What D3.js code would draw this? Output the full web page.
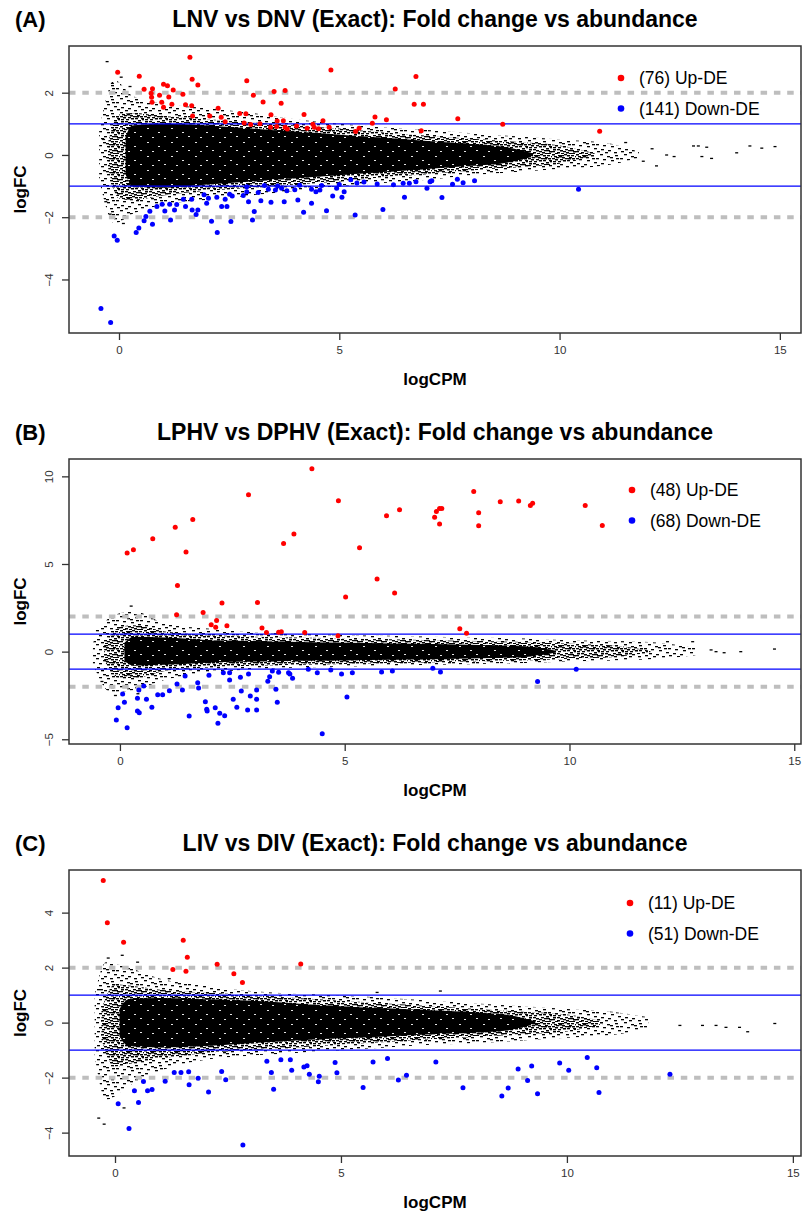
<!DOCTYPE html>
<html>
<head>
<meta charset="utf-8">
<script src="https://cdn.jsdelivr.net/npm/d3@7"></script>
<style>
body { margin: 0; background: #fff; }
svg { display: block; font-family: "Liberation Sans", Arial, sans-serif; }
</style>
</head>
<body>
<div id="chart"></div>
<script>
// ---- panel A : LNV vs DNV ----
const upA = [[-0.03,2.66],[0.46,2.53],[0.57,2.11],[0.76,2.13],[0.73,1.98],[0.74,1.85],[0.75,1.69],[0.92,1.92],
  [1.01,2.27],[1.10,2.22],[0.97,1.69],[1.01,1.53],[1.13,1.86],[1.20,1.63],[1.23,2.09],[1.45,1.95],[1.51,1.61],
  [1.61,3.14],[1.66,2.43],[1.65,1.58],[1.67,1.25],[1.79,2.25],[2.06,1.25],[2.25,1.50],[2.32,1.21],[2.41,1.07],
  [2.74,1.33],[2.88,1.32],[2.90,2.38],[2.84,1.03],[2.99,0.98],[3.05,1.92],[3.27,1.70],[3.20,1.00],[3.45,1.29],
  [3.52,2.04],[3.77,2.07],[3.68,1.66],[3.59,1.09],[3.73,1.10],[3.44,0.89],[3.58,0.91],[3.77,0.89],[3.82,0.83],
  [4.03,0.93],[4.20,1.30],[4.27,0.86],[4.40,0.99],[4.43,0.89],[4.53,0.84],[4.63,1.10],[4.77,0.89],[4.81,2.73],
  [5.37,0.75],[5.45,0.86],[5.75,1.02],[5.81,1.22],[6.07,1.13],[6.27,2.12],[6.74,2.52],[6.70,1.63],[6.91,1.63],
  [7.69,1.16],[6.86,0.78],[8.71,0.99],[10.91,0.76]];
const downA = [[-0.41,-4.93],[-0.19,-5.38],[-0.11,-2.60],[-0.04,-2.74],[0.39,-2.49],[0.45,-2.35],[0.57,-2.11],
  [0.61,-1.98],[0.76,-2.23],[0.70,-1.81],[0.86,-1.66],[0.98,-1.58],[1.04,-1.80],[1.15,-1.58],[1.17,-2.09],
  [1.26,-1.77],[1.31,-1.59],[1.46,-1.42],[1.51,-1.66],[1.65,-1.42],[1.66,-1.77],[1.75,-1.91],[1.79,-1.77],
  [1.93,-1.28],[1.99,-1.55],[2.03,-1.39],[2.10,-2.13],[2.23,-2.49],[2.22,-1.36],[2.33,-1.66],[2.41,-1.42],
  [2.45,-1.66],[2.51,-1.26],[2.54,-2.14],[2.57,-1.32],[2.82,-1.30],[2.90,-1.18],[2.94,-1.50],[3.03,-2.09],
  [3.07,-1.82],[3.16,-1.21],[3.22,-1.47],[3.39,-1.10],[3.45,-1.52],[3.55,-1.13],[3.69,-1.07],[3.75,-1.50],
  [3.81,-1.15],[3.99,-1.12],[4.06,-1.45],[4.19,-1.84],[4.37,-1.10],[4.37,-1.55],[4.47,-1.18],[4.56,-1.13],
  [4.71,-1.79],[4.85,-1.32],[4.94,-1.07],[5.06,-1.36],[5.11,-1.18],[5.26,-0.80],[5.36,-1.93],[5.56,-0.87],
  [5.86,-0.93],[5.99,-1.75],[6.23,-0.96],[2.90,-1.02],[3.30,-0.98],[3.60,-1.00],[4.10,-0.97],[4.60,-0.98],
  [5.00,-0.95],[5.40,-0.90],[6.45,-0.91],[6.59,-0.91],[6.74,-0.86],[6.48,-1.36],[6.99,-1.07],[7.06,-0.86],
  [7.10,-0.83],[7.33,-1.37],[7.57,-0.94],[7.68,-0.78],[7.81,-0.89],[8.07,-0.83],[10.43,-1.10]];
// point cloud envelopes (logCPM, upper logFC, lower logFC)
const coreXA = [0.15, 0.3, 1, 2, 3, 4, 5, 6, 7, 8, 8.8, 9.4];
const coreUpA = [0.6, 0.95, 1.0, 0.95, 0.85, 0.75, 0.65, 0.55, 0.45, 0.35, 0.25, 0.05];
const coreLoA = [-0.6, -1.0, -1.05, -0.95, -0.85, -0.75, -0.65, -0.55, -0.45, -0.35, -0.25, -0.05];
const midXA = [-0.25, 0.0, 0.3, 1, 2, 3, 4, 5, 6, 7, 8, 9, 10, 10.8];
const midUpA = [0.4, 1.3, 1.35, 1.25, 1.15, 1.05, 0.95, 0.85, 0.72, 0.62, 0.52, 0.42, 0.3, 0.05];
const midLoA = [-0.4, -1.4, -1.45, -1.3, -1.15, -1.05, -0.95, -0.85, -0.72, -0.62, -0.5, -0.4, -0.28, -0.05];
const haloXA = [-0.45, -0.1, 0.3, 1, 2, 3, 4, 5, 6, 7, 8, 9, 10, 11, 11.8];
const haloUpA = [0.8, 2.4, 1.9, 1.65, 1.5, 1.35, 1.15, 1.0, 0.9, 0.8, 0.7, 0.6, 0.5, 0.4, 0.1];
const haloLoA = [-0.8, -2.2, -1.9, -1.6, -1.45, -1.3, -1.15, -1.0, -0.9, -0.8, -0.65, -0.55, -0.45, -0.35, -0.1];
const tailA = [[13.04,0.29],[13.15,0.29],[13.34,0.25],[14.32,0.29],[14.59,0.22],[14.89,0.27],[14.02,0.07],
  [13.23,-0.05],[13.45,-0.11],[12.6,-0.05],[12.43,0.0],[-0.27,3.0],[-0.35,0.5],[12.1,0.2],[11.9,-0.2],
  [-0.15,2.3],[0.05,2.5],[0.25,2.2],[-0.3,-1.5],[-0.2,-1.9],[0.1,-2.2],[11.5,0.4],[12.2,-0.35]];

// ---- panel B : LPHV vs DPHV ----
const upB = [[0.16,5.62],[0.30,5.81],[0.73,6.44],[1.23,7.09],[1.62,7.54],[1.47,5.68],[1.28,3.77],[2.86,8.95],
  [2.27,2.78],[3.06,2.80],[3.64,6.17],[3.87,6.71],[4.27,10.44],[4.86,8.61],[5.33,5.93],[5.72,4.15],[6.11,3.35],
  [5.02,3.11],[5.93,7.75],[6.22,8.10],[7.87,9.14],[8.46,8.55],[8.87,8.59],[9.13,8.33],[9.18,8.46],[10.35,8.33],
  [10.73,7.20],[7.11,8.17],[7.16,8.17],[7.04,8.00],[7.0,7.66],[7.11,7.28],[7.98,7.93],[7.98,7.18],
  [1.26,2.10],[1.85,2.23],[2.03,1.53],[2.15,1.77],[2.13,1.39],[2.38,1.47],[3.16,1.35],[3.26,1.09],[3.53,1.11],
  [3.59,1.14],[4.11,1.09],[4.85,0.90],[7.56,1.30],[7.71,1.05]];
const downB = [[-0.08,-3.90],[-0.04,-3.20],[0.06,-2.42],[0.10,-2.89],[0.16,-4.34],[0.39,-3.39],[0.43,-3.48],
  [0.39,-2.66],[0.42,-2.19],[0.53,-1.96],[0.59,-2.72],[0.71,-3.18],[0.84,-2.46],[0.95,-2.46],[1.10,-2.23],
  [1.27,-1.85],[1.39,-2.19],[1.45,-1.39],[1.54,-3.67],[1.73,-1.77],[1.75,-2.07],[1.90,-2.86],[1.93,-3.29],
  [1.94,-3.39],[1.98,-1.35],[2.12,-3.20],[2.18,-4.09],[2.22,-3.52],[2.30,-1.20],[2.44,-1.20],[2.33,-3.66],
  [2.44,-1.62],[2.52,-2.72],[2.60,-3.18],[2.68,-1.46],[2.70,-2.25],[2.84,-3.33],[2.86,-1.27],[2.90,-2.53],
  [3.04,-2.72],[3.04,-3.33],[3.04,-2.19],[3.29,-1.69],[3.33,-1.43],[3.39,-1.10],[3.47,-2.15],[3.50,-2.89],
  [3.53,-1.18],[3.75,-1.20],[3.78,-1.27],[3.84,-1.52],[4.19,-1.01],[4.39,-1.20],[4.50,-4.69],[4.69,-1.05],
  [4.93,-1.27],[5.05,-2.59],[5.17,-1.20],[5.82,-1.16],[6.06,-1.10],[6.96,-0.95],[7.13,-1.16],[9.29,-1.71],
  [10.15,-1.01]];
const coreXB = [0.1, 0.3, 1, 2, 3, 4, 5, 6, 7, 8, 9, 9.7];
const coreUpB = [0.5, 0.85, 0.8, 0.65, 0.6, 0.55, 0.5, 0.47, 0.43, 0.38, 0.3, 0.05];
const coreLoB = [-0.5, -0.8, -0.75, -0.62, -0.57, -0.52, -0.5, -0.47, -0.43, -0.38, -0.3, -0.05];
const midXB = [-0.35, 0.0, 0.3, 1, 2, 3, 4, 5, 6, 7, 8, 9, 10, 11, 11.8];
const midUpB = [0.4, 1.4, 1.5, 1.15, 0.95, 0.85, 0.8, 0.75, 0.7, 0.65, 0.6, 0.55, 0.45, 0.35, 0.05];
const midLoB = [-0.5, -1.5, -1.5, -1.1, -0.9, -0.8, -0.75, -0.7, -0.65, -0.6, -0.55, -0.5, -0.4, -0.3, -0.05];
const haloXB = [-0.6, -0.2, 0.3, 1, 2, 3, 4, 5, 6, 7, 8, 9, 10, 11, 12, 12.8];
const haloUpB = [0.5, 2.0, 2.3, 1.6, 1.3, 1.1, 1.0, 0.95, 0.9, 0.85, 0.8, 0.75, 0.65, 0.6, 0.5, 0.2];
const haloLoB = [-0.7, -2.3, -2.2, -1.6, -1.2, -1.0, -0.9, -0.85, -0.8, -0.75, -0.7, -0.65, -0.55, -0.5, -0.4, -0.2];
const tailB = [[13.15,0.1],[13.26,0.0],[13.44,-0.06],[13.81,0.0],[14.56,0.15],[12.74,0.57],[12.18,0.57],
  [-0.5,1.2],[-0.4,-1.7],[0.25,2.6],[-0.1,-2.5],[0.4,-2.4]];

// ---- panel C : LIV vs DIV ----
const upC = [[-0.26,5.17],[-0.17,3.63],[0.19,2.92],[1.51,3.00],[1.60,2.38],[1.57,1.87],[1.28,1.93],[2.26,2.12],
  [2.63,1.78],[2.82,1.46],[4.11,2.13]];
const downC = [[0.07,-2.95],[0.31,-3.85],[0.43,-2.48],[0.52,-2.90],[0.63,-2.14],[0.72,-2.48],[0.82,-2.43],
  [1.11,-2.13],[1.31,-1.81],[1.46,-1.81],[1.63,-1.79],[1.64,-2.26],[1.84,-2.02],[2.07,-2.52],[2.36,-1.78],
  [2.45,-2.08],[2.83,-4.45],[3.36,-1.40],[3.46,-1.81],[3.51,-2.42],[3.67,-1.35],[3.88,-1.35],[3.91,-1.73],
  [4.18,-1.61],[4.25,-1.57],[4.30,-1.88],[4.50,-2.15],[4.52,-1.95],[4.87,-1.45],[4.91,-1.82],[5.49,-2.36],
  [5.71,-1.43],[6.03,-1.30],[6.27,-2.09],[6.45,-1.91],[7.10,-1.43],[7.70,-2.37],[8.56,-2.67],[8.70,-2.38],
  [8.92,-1.69],[9.13,-2.10],[9.22,-1.58],[9.35,-2.59],[9.84,-1.47],[10.04,-1.73],[10.45,-1.27],[10.66,-1.64],
  [10.71,-2.54],[12.28,-1.88]];
const coreXC = [0.1, 0.3, 1, 2, 3, 4, 5, 6, 7, 8, 8.7, 9.3];
const coreUpC = [0.5, 0.85, 0.9, 0.85, 0.8, 0.7, 0.6, 0.52, 0.45, 0.37, 0.28, 0.05];
const coreLoC = [-0.5, -0.85, -0.9, -0.85, -0.75, -0.65, -0.57, -0.5, -0.42, -0.37, -0.28, -0.05];
const midXC = [-0.3, 0.0, 0.3, 1, 2, 3, 4, 5, 6, 7, 8, 9, 10, 10.8];
const midUpC = [0.5, 1.4, 1.35, 1.2, 1.1, 1.0, 0.9, 0.8, 0.7, 0.6, 0.5, 0.4, 0.3, 0.05];
const midLoC = [-0.6, -1.6, -1.5, -1.3, -1.1, -1.0, -0.9, -0.8, -0.7, -0.6, -0.52, -0.42, -0.32, -0.05];
const haloXC = [-0.45, -0.2, 0.3, 1, 2, 3, 4, 5, 6, 7, 8, 9, 10, 11, 11.8];
const haloUpC = [1.0, 2.2, 2.0, 1.6, 1.35, 1.15, 1.05, 1.0, 0.9, 0.8, 0.7, 0.6, 0.5, 0.4, 0.2];
const haloLoC = [-1.2, -2.8, -2.3, -1.75, -1.35, -1.2, -1.1, -1.0, -0.9, -0.8, -0.75, -0.65, -0.55, -0.45, -0.2];
const tailC = [[-0.36,-3.47],[-0.24,-3.69],[12.5,-0.1],[13.0,-0.1],[13.3,-0.1],[13.52,-0.17],[13.82,-0.17],
  [14.0,-0.33],[14.6,-0.03],[0.16,2.45],[-0.15,2.35],[0.5,2.2],[1.2,1.6],[-0.3,1.2],[0.2,-3.1],[7.2,1.15],
  [5.8,1.1]];

const panels = [
  {tag: "(A)", title: "LNV vs DNV (Exact): Fold change vs abundance", top: 46, bottom: 333,
   xDomain: [-1.135, 15.48], yDomain: [-5.72, 3.5], xTicks: [0, 5, 10, 15], yTicks: [-4, -2, 0, 2],
   up: upA, down: downA, tail: tailA,
   layers: [[haloXA, haloUpA, haloLoA], [midXA, midUpA, midLoA], [coreXA, coreUpA, coreLoA]],
   nUp: 76, nDown: 141, legX: 621, legY: 78},
  {tag: "(B)", title: "LPHV vs DPHV (Exact): Fold change vs abundance", top: 459, bottom: 744,
   xDomain: [-1.133, 15.15], yDomain: [-5.27, 10.99], xTicks: [0, 5, 10, 15], yTicks: [-5, 0, 5, 10],
   up: upB, down: downB, tail: tailB,
   layers: [[haloXB, haloUpB, haloLoB], [midXB, midUpB, midLoB], [coreXB, coreUpB, coreLoB]],
   nUp: 48, nDown: 68, legX: 632, legY: 490},
  {tag: "(C)", title: "LIV vs DIV (Exact): Fold change vs abundance", top: 870, bottom: 1156,
   xDomain: [-1.018, 15.18], yDomain: [-4.85, 5.55], xTicks: [0, 5, 10, 15], yTicks: [-4, -2, 0, 2, 4],
   up: upC, down: downC, tail: tailC,
   layers: [[haloXC, haloUpC, haloLoC], [midXC, midUpC, midLoC], [coreXC, coreUpC, coreLoC]],
   nUp: 11, nDown: 51, legX: 630, legY: 903}
];

const svg = d3.select("#chart").append("svg")
    .attr("width", 803)
    .attr("height", 1214);

// textures that mimic the overplotted dash markers (sparse edge, dense band, solid core)
const defs = svg.append("defs");
const sparseDashes = [[0,0],[7,2],[15,1],[20,4],[3,5],[11,6],[18,8],[1,9],[8,10],[14,12],[21,11],[5,12],[16,4],[10,3]];
const extraDashes = [[2,2],[12,0],[19,1],[6,7],[13,9],[22,7],[0,11],[9,13],[17,13],[4,3],[15,6],[19,10],[8,5],[1,7],
  [11,11],[23,2],[6,1],[17,3],[3,13],[20,13],[13,4],[21,6],[5,9],[16,10],[9,1],[0,4]];
const speckles = [[3,2],[14,6],[8,11],[20,10]];

function makePattern(id, dashes, bg, fg, w) {
    const pat = defs.append("pattern")
        .attr("id", id)
        .attr("patternUnits", "userSpaceOnUse")
        .attr("width", 24)
        .attr("height", 14);
    if (bg) pat.append("rect").attr("width", 24).attr("height", 14).attr("fill", bg);
    dashes.forEach(d => {
        pat.append("rect")
            .attr("x", d[0]).attr("y", d[1])
            .attr("width", w).attr("height", bg ? 0.9 : 1.3)
            .attr("fill", fg);
    });
}
makePattern("sparse", sparseDashes, null, "#000", 3);
makePattern("dense", sparseDashes.concat(extraDashes), null, "#000", 3);
makePattern("solid", speckles, "#000", "#fff", 2);
const layerFills = ["url(#sparse)", "url(#dense)", "url(#solid)"];

panels.forEach(drawPanel);

function drawPanel(p) {
    const left = 69, right = 801;
    const x = d3.scaleLinear().domain(p.xDomain).range([left, right]),
          y = d3.scaleLinear().domain(p.yDomain).range([p.bottom, p.top]);
    const g = svg.append("g");

    const area = d3.area()
        .x(d => x(d[0]))
        .y0(d => y(d[2]))
        .y1(d => y(d[1]))
        .curve(d3.curveMonotoneX);

    p.layers.forEach((layer, i) => {
        g.append("path")
            .datum(d3.zip(...layer))
            .attr("fill", layerFills[i])
            .attr("d", area);
    });

    g.selectAll(".tail")
        .data(p.tail)
        .enter().append("rect")
        .attr("x", d => x(d[0]) - 1.5)
        .attr("y", d => y(d[1]) - 0.6)
        .attr("width", 3)
        .attr("height", 1.3)
        .attr("fill", "#000");

    // threshold lines
    [2, -2].forEach(v => {
        g.append("line")
            .attr("x1", left).attr("x2", right)
            .attr("y1", y(v)).attr("y2", y(v))
            .attr("stroke", "#bebebe")
            .attr("stroke-width", 4)
            .attr("stroke-dasharray", "6.5,6.8");
    });
    [1, -1].forEach(v => {
        g.append("line")
            .attr("x1", left).attr("x2", right)
            .attr("y1", y(v)).attr("y2", y(v))
            .attr("stroke", "#0000ff")
            .attr("stroke-width", 1.2);
    });

    g.selectAll(".up")
        .data(p.up)
        .enter().append("circle")
        .attr("cx", d => x(d[0]))
        .attr("cy", d => y(d[1]))
        .attr("r", 2.5)
        .attr("fill", "#ff0000");

    g.selectAll(".down")
        .data(p.down)
        .enter().append("circle")
        .attr("cx", d => x(d[0]))
        .attr("cy", d => y(d[1]))
        .attr("r", 2.5)
        .attr("fill", "#0000ff");

    // box
    g.append("rect")
        .attr("x", left).attr("y", p.top)
        .attr("width", right - left).attr("height", p.bottom - p.top)
        .attr("fill", "none")
        .attr("stroke", "#333")
        .attr("stroke-width", 1.5);

    // axes
    const xAxis = g.append("g")
        .attr("transform", `translate(0,${p.bottom})`)
        .call(d3.axisBottom(x).tickValues(p.xTicks).tickSize(7).tickPadding(6));
    const yAxis = g.append("g")
        .attr("transform", `translate(${left},0)`)
        .call(d3.axisLeft(y).tickValues(p.yTicks).tickSize(7));
    [xAxis, yAxis].forEach(a => {
        a.select(".domain").remove();
        a.selectAll("line").attr("stroke", "#333").attr("stroke-width", 1.3);
        a.selectAll("text").attr("fill", "#333").style("font-size", "11.5px").style("font-family", "Liberation Sans, Arial, sans-serif");
    });
    yAxis.selectAll("text")
        .attr("transform", "rotate(-90)")
        .attr("x", 0)
        .attr("y", -16)
        .attr("dy", 0)
        .attr("text-anchor", "middle");

    // axis titles
    g.append("text")
        .attr("x", (left + right) / 2)
        .attr("y", p.bottom + 52)
        .attr("text-anchor", "middle")
        .style("font-size", "17px")
        .style("font-weight", "bold")
        .text("logCPM");
    g.append("text")
        .attr("transform", `translate(26,${(p.top + p.bottom) / 2}) rotate(-90)`)
        .attr("text-anchor", "middle")
        .style("font-size", "17px")
        .style("font-weight", "bold")
        .text("logFC");

    // title and panel tag
    g.append("text")
        .attr("x", (left + right) / 2)
        .attr("y", p.top - 19)
        .attr("text-anchor", "middle")
        .style("font-size", "23px")
        .style("font-weight", "bold")
        .text(p.title);
    g.append("text")
        .attr("x", 15)
        .attr("y", p.top - 19)
        .style("font-size", "22px")
        .style("font-weight", "bold")
        .text(p.tag);

    // legend
    const leg = g.append("g");
    [[p.nUp, "Up-DE", "#ff0000"], [p.nDown, "Down-DE", "#0000ff"]].forEach((d, i) => {
        leg.append("circle")
            .attr("cx", p.legX)
            .attr("cy", p.legY + i * 30.5)
            .attr("r", 3.3)
            .attr("fill", d[2]);
        leg.append("text")
            .attr("x", p.legX + 18)
            .attr("y", p.legY + i * 30.5)
            .attr("dy", "0.36em")
            .style("font-size", "17.5px")
            .text(`(${d[0]}) ${d[1]}`);
    });
}
</script>
</body>
</html>
